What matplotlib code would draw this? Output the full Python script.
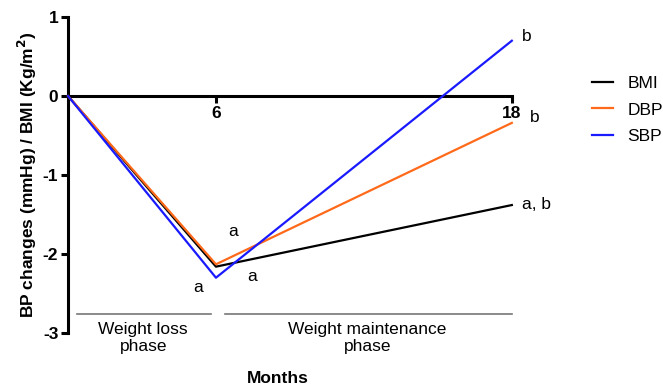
import matplotlib.pyplot as plt

plt.rcParams['font.family'] = ['Liberation Sans', 'DejaVu Sans']

months = [0, 6, 18]
bmi = [0, -2.16, -1.38]
dbp = [0, -2.13, -0.34]
sbp = [0, -2.30, 0.70]

fs = 12.5

fig = plt.figure(figsize=(6.63, 3.87), dpi=100)
ax = fig.add_axes([0.1026, 0.1395, 0.6694, 0.8165])

ax.plot(months, bmi, color='black', lw=1.6, label='BMI', clip_on=False, zorder=3)
ax.plot(months, dbp, color='#ff6a1a', lw=1.6, label='DBP', clip_on=False, zorder=3)
ax.plot(months, sbp, color='#1a1aff', lw=1.6, label='SBP', clip_on=False, zorder=3)

ax.set_xlim(0, 18)
ax.set_ylim(-3, 1)
ax.spines['top'].set_visible(False)
ax.spines['right'].set_visible(False)
ax.spines['bottom'].set_position(('data', 0))
ax.spines['left'].set_linewidth(2.2)
ax.spines['bottom'].set_linewidth(2.2)

ax.set_xticks([6, 18])
ax.set_xticklabels(['6', '18'], fontweight='bold', fontsize=fs)
ax.set_yticks([1, 0, -1, -2, -3])
ax.set_yticklabels(['1', '0', '-1', '-2', '-3'], fontweight='bold', fontsize=fs)
ax.tick_params(axis='both', direction='out', length=5, width=2.2, pad=2)

ax.set_ylabel('BP changes (mmHg) / BMI (Kg/m$^\\mathbf{2}$)', fontweight='bold', fontsize=fs, labelpad=3)

# significance letters
ax.text(6.69, -1.72, 'a', fontsize=fs, ha='center', va='center')
ax.text(7.46, -2.28, 'a', fontsize=fs, ha='center', va='center')
ax.text(5.27, -2.42, 'a', fontsize=fs, ha='center', va='center')
ax.text(18.4, 0.75, 'b', fontsize=fs, ha='left', va='center', clip_on=False)
ax.text(18.75, -0.27, 'b', fontsize=fs, ha='left', va='center', clip_on=False)
ax.text(18.4, -1.37, 'a, b', fontsize=fs, ha='left', va='center', clip_on=False)

# phase bars
ax.plot([0.36, 5.8], [-2.76, -2.76], color='#777777', lw=1.2, clip_on=False)
ax.plot([6.36, 18], [-2.76, -2.76], color='#777777', lw=1.2, clip_on=False)
ax.text(3.05, -3.06, 'Weight loss\nphase', fontsize=fs, ha='center', va='center',
        linespacing=1.15, clip_on=False)
ax.text(12.15, -3.06, 'Weight maintenance\nphase', fontsize=fs, ha='center', va='center',
        linespacing=1.15, clip_on=False)
ax.text(8.5, -3.58, 'Months', fontsize=fs, fontweight='bold', ha='center', va='center',
        clip_on=False)

leg = ax.legend(loc='center left', bbox_to_anchor=(1.145, 0.706), frameon=False,
                fontsize=fs, handlelength=1.2, labelspacing=0.67, handletextpad=0.84)

fig.savefig('out.png', dpi=100)
